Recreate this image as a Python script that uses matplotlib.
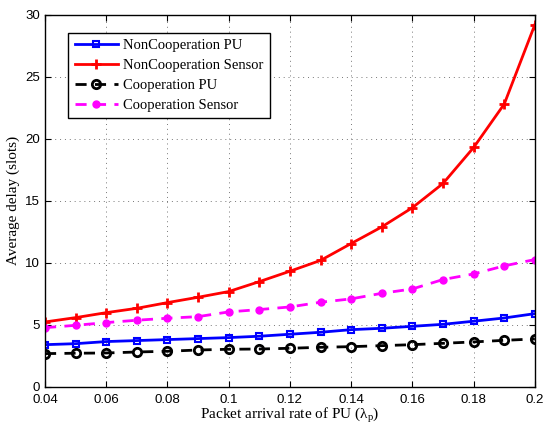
import matplotlib.pyplot as plt

# packet arrival rate of PU
rate = [0.04, 0.05, 0.06, 0.07, 0.08, 0.09, 0.10, 0.11, 0.12,
        0.13, 0.14, 0.15, 0.16, 0.17, 0.18, 0.19, 0.20]

noncoop_pu = [3.41, 3.49, 3.66, 3.74, 3.82, 3.90, 3.98, 4.09, 4.25,
              4.41, 4.62, 4.73, 4.89, 5.05, 5.30, 5.56, 5.91]
noncoop_sensor = [5.24, 5.59, 5.99, 6.34, 6.80, 7.23, 7.69, 8.49, 9.33,
                  10.2, 11.56, 12.9, 14.45, 16.4, 19.3, 22.8, 29.2]
coop_pu = [2.69, 2.72, 2.74, 2.82, 2.88, 2.98, 3.04, 3.06, 3.12,
           3.20, 3.25, 3.33, 3.41, 3.52, 3.63, 3.76, 3.87]
coop_sensor = [4.78, 4.97, 5.19, 5.38, 5.54, 5.67, 6.05, 6.24, 6.45,
               6.83, 7.10, 7.55, 7.90, 8.66, 9.11, 9.76, 10.27]

xticks = [0.04, 0.06, 0.08, 0.1, 0.12, 0.14, 0.16, 0.18, 0.2]
xticklabels = ["0.04", "0.06", "0.08", "0.1", "0.12", "0.14", "0.16", "0.18", "0.2"]
yticks = [0, 5, 10, 15, 20, 25, 30]

serif = "Liberation Serif"
sans = "Liberation Sans"
plt.rcParams["mathtext.fontset"] = "stix"

fig = plt.figure(figsize=(5.51, 4.24), dpi=100)
ax = fig.add_axes([0.0817, 0.0873, 0.889, 0.878])

ax.plot(rate, noncoop_pu, color="blue", lw=2, marker="s", ms=5,
        mfc="none", mew=1.5, label="NonCooperation PU")
ax.plot(rate, noncoop_sensor, color="red", lw=2, marker="+", ms=7,
        mew=2, label="NonCooperation Sensor")
ax.plot(rate, coop_pu, color="black", lw=2, ls=(0, (4, 3)), marker="o", ms=6,
        mfc="none", mew=2, label="Cooperation PU")
ax.plot(rate, coop_sensor, color="magenta", lw=2, ls=(0, (4, 3)), marker="o",
        ms=5, label="Cooperation Sensor")

ax.set_xlim(0.04, 0.2)
ax.set_ylim(0, 30)
ax.set_xticks(xticks)
ax.set_xticklabels(xticklabels)
ax.set_yticks(yticks)
ax.grid(True, ls=(0, (1, 4)), color="#777777", lw=0.7)
ax.tick_params(direction="in", top=True, right=True, labelsize=9.5, length=4)
ax.tick_params(axis="x", pad=5)
for lbl in ax.get_xticklabels() + ax.get_yticklabels():
    lbl.set_family(sans)
for sp in ax.spines.values():
    sp.set_linewidth(1.0)

ax.set_xlabel(r"Packet arrival rate of PU ($\mathregular{\lambda_p}$)",
              family=serif, fontsize=11, labelpad=0)
ax.set_ylabel("Average delay (slots)", family=serif, fontsize=11, labelpad=4)

leg = ax.legend(loc="upper left", bbox_to_anchor=(0.047, 0.952),
                borderaxespad=0,
                prop={"family": serif, "size": 10.5}, fancybox=False,
                framealpha=1, edgecolor="black", handlelength=3,
                borderpad=0.45, labelspacing=0.45, handletextpad=0.3)
leg.get_frame().set_linewidth(1.0)

fig.savefig("out.png", dpi=100)
